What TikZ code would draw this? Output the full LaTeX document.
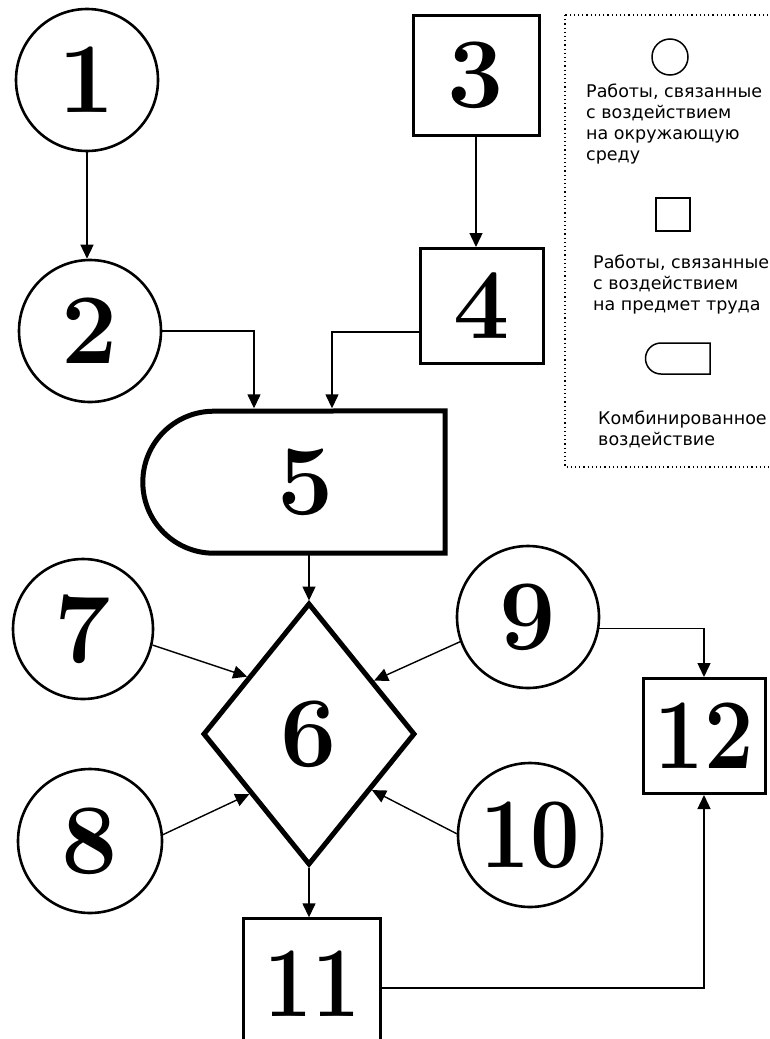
\documentclass[tikz,border=0pt]{standalone}
\usepackage{fontspec}
\usepackage{graphicx}
\newfontfamily\legfont{DejaVu Sans}
\usetikzlibrary{shapes.geometric,arrows.meta,calc}
\begin{document}
\begin{tikzpicture}[x=1pt,y=-1pt,
  num/.style={font=\fontsize{100}{100}\selectfont\bfseries, inner sep=0pt},
  circ/.style={num, circle, draw, line width=2.6pt, minimum size=142pt},
  sq/.style={num, rectangle, draw, line width=3pt},
  boxline/.style={line width=3pt},
  arr/.style={line width=1.4pt, -{Triangle[length=14pt,width=13pt]}},
  thickline/.style={line width=5pt},
  leg/.style={font=\legfont\fontsize{17.5}{21}\selectfont, align=left, anchor=base west, inner sep=0pt},
  legshape/.style={draw, line width=1.5pt}]
\useasboundingbox (0,0) rectangle (770,1039);
\clip (0,0) rectangle (770,1039);

% nodes
\node[circ] (n1) at (87,80) {1};
\node[circ] (n2) at (90,331) {2};
\node[sq, minimum width=126pt, minimum height=120pt] (n3) at (476,75) {3};
\node[sq, minimum width=123pt, minimum height=115pt] (n4) at (482,306) {4};
\node[num, minimum width=302pt, minimum height=142pt] (n5) at (294,482) {\hspace*{24pt}5};
\draw[thickline] ([xshift=71pt]n5.south west) arc[start angle=90,end angle=270,radius=71]
  -- (n5.north east) -- (n5.south east) -- cycle;
\node[num, diamond, draw, line width=5pt, minimum width=212pt, minimum height=262pt] (n6) at (309,734) {6};
\node[circ, minimum size=140pt] (n7) at (83,629) {7};
\node[circ, minimum size=144pt] (n8) at (90,841) {8};
\node[circ] (n9) at (528,617) {9};
\node[circ, minimum size=144pt] (n10) at (530,835) {\scalebox{0.88}[1]{10}};
% box 11 runs off the bottom edge of the picture
\node[num, minimum width=136pt, minimum height=116pt, text height=78pt, text depth=0pt] (n11) at (312,977) {\scalebox{0.85}[1]{11}};
\draw[boxline] ([yshift=-10pt]n11.south west) -- (n11.north west) -- (n11.north east) -- ([yshift=-10pt]n11.south east);
\node[sq, minimum width=122pt, minimum height=115pt] (n12) at (704,736) {\scalebox{0.88}[1]{12}};

% connectors
\draw[arr] (n1.south) -- (n1.south |- n2.north);
\draw[arr] (n3.south) -- (n3.south |- n4.north);
\draw[arr] (n2.east) -| ([xshift=-40pt,yshift=2.5pt]n5.north);
\draw[arr] ([yshift=-26pt]n4.west) -| ([xshift=38pt,yshift=2.5pt]n5.north);
\draw[arr] (n6.north |- n5.south) -- (n6.north);
\draw[arr] (n6.south) -- ([yshift=1.5pt]n6.south |- n11.north);
\draw[arr] (n7.-13) -- ($(n6.west)!0.43!(n6.north)$);
\draw[arr] (n8.5) -- ($(n6.west)!0.45!(n6.south)$);
\draw[arr] (n9.200) -- ($(n6.east)!0.40!(n6.north)$);
\draw[arr] (n10.179) -- ($(n6.east)!0.42!(n6.south)$);
\draw[arr] (n9.-9) -| (n12.north);
\draw[arr] ([yshift=-11pt]n11.east) -| (n12.south);

% legend
\draw[line width=1.2pt, dash pattern=on 1.2pt off 3pt] (565,15) rectangle (790,467);
\node[legshape, circle, minimum size=36pt, inner sep=0pt] (lc) at (670,57) {};
\node[leg] (lt1) at (586,160) {Работы, связанные\\с воздействием\\на окружающую\\среду};
\node[legshape, rectangle, minimum width=34pt, minimum height=33pt, inner sep=0pt] (ls) at (673,214.5) {};
\node[leg] (lt2) at (593,310) {Работы, связанные\\с воздействием\\на предмет труда};
\draw[line width=1.5pt] (661,374) arc[start angle=90,end angle=270,radius=15.5] -- (710,343) -- (710,374) -- cycle;
\node[leg] (lt3) at (598,445) {Комбинированное\\воздействие};
\end{tikzpicture}
\end{document}
